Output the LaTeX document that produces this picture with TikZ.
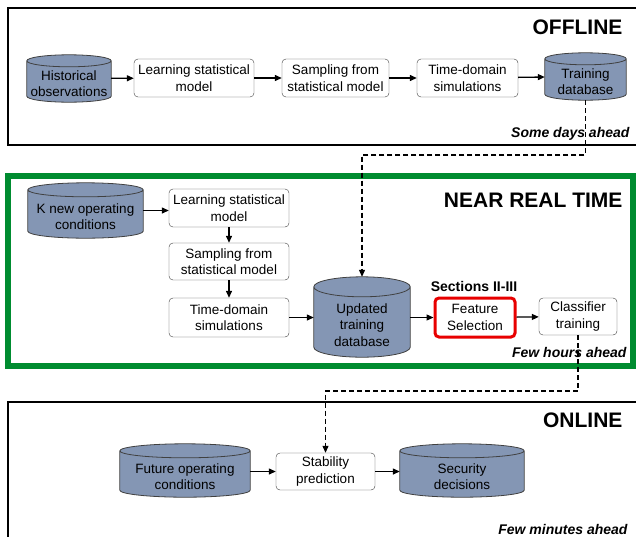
\documentclass[tikz,border=0pt]{standalone}
\usepackage{fontspec}
\setmainfont{Liberation Sans}
\usetikzlibrary{arrows.meta,backgrounds,calc}
\definecolor{dbblue}{RGB}{132,150,180}
\definecolor{nrtgreen}{RGB}{0,140,48}
\definecolor{selred}{RGB}{232,0,0}
\newcommand{\dbshape}[2]{%
  \path[dbline] let \p1=(#1.north west), \p2=(#1.south east), \n1={(\x2-\x1)/2} in
    (\x1,\y1-#2pt) -- (\x1,\y2+#2pt)
    arc[start angle=180,end angle=360,x radius=\n1,y radius=#2pt]
    -- (\x2,\y1-#2pt)
    arc[start angle=0,end angle=180,x radius=\n1,y radius=#2pt] -- cycle
    (\x1+\n1,\y1-#2pt) ellipse[x radius=\n1,y radius=#2pt];}

\begin{document}
\begin{tikzpicture}[x=1pt,y=-1pt]
\tikzset{procbox/.style={draw=black!75,rounded corners=4pt,fill=white,align=center,
    inner sep=0pt,font=\fontsize{13.5}{16.5}\selectfont},
  dbcyl/.style={inner sep=0pt},
  dbtext/.style={align=center,inner sep=0pt,font=\fontsize{13.5}{16.5}\selectfont},
  dbline/.style={draw=black!75,fill=dbblue,line width=0.8pt},
  flow/.style={-{Triangle[length=7pt,width=6pt]},line width=1.3pt},
  link/.style={dashed,dash pattern=on 5pt off 3pt,line width=1.1pt,-{Triangle[length=7pt,width=6pt]}},
  phase/.style={anchor=east,font=\bfseries\fontsize{21}{24}\selectfont},
  ahead/.style={anchor=east,font=\bfseries\itshape\fontsize{14}{16}\selectfont}}
\def\frm{1.2pt}
\useasboundingbox (0,0) rectangle (636,536);

% offline
\draw[line width=\frm] (8,8) rectangle (650,145);
\node[phase] (offt) at (626,27) {OFFLINE};
\node[ahead] (offa) at (633,134) {Some days ahead};
\node[dbcyl,minimum width=84pt,minimum height=47pt,
  label={[dbtext,yshift=-5pt]center:{Historical\\observations}}] (hist) at (69,78.5) {};
\node[procbox,minimum width=120pt,minimum height=38pt] (learn1) at (194,78) {Learning statistical\\model};
\node[procbox,minimum width=107pt,minimum height=38pt] (samp1) at (335.5,78) {Sampling from\\statistical model};
\node[procbox,minimum width=101pt,minimum height=38pt] (time1) at (467.5,78) {Time-domain\\simulations};
\node[dbcyl,minimum width=81pt,minimum height=47pt,
  label={[dbtext,yshift=-5pt]center:{Training\\database}}] (train1) at (585.5,76.5) {};
\draw[flow] (hist) -- (learn1);
\draw[flow] (learn1) -- (samp1);
\draw[flow] (samp1) -- (time1);
\draw[flow] (time1) -- (train1);

% near real time
\draw[nrtgreen,line width=6pt] (8,176) rectangle (633,366);
\node[phase] (nrtt) at (626,200) {NEAR REAL TIME};
\node[ahead] (nrta) at (630,352) {Few hours ahead};
\node[dbcyl,minimum width=115pt,minimum height=55pt,
  label={[dbtext,yshift=-6pt]center:{K new operating\\conditions}}] (knew) at (85.5,210.5) {};
\node[procbox,minimum width=120pt,minimum height=38pt] (learn2) at (229,208) {Learning statistical\\model};
\node[procbox,minimum width=120pt,minimum height=37pt] (samp2) at (229,261.5) {Sampling from\\statistical model};
\node[procbox,minimum width=120pt,minimum height=39pt] (time2) at (229,317.5) {Time-domain\\simulations};
\node[dbcyl,minimum width=96pt,minimum height=80pt,
  label={[dbtext,yshift=-8pt]center:{Updated\\training\\database}}] (upd) at (362,317) {};
\node[procbox,draw=selred,line width=3pt,minimum width=80pt,minimum height=39pt] (feat) at (475,317.5) {Feature\\Selection};
\node[font=\bfseries\fontsize{14}{16}\selectfont] (sect) at (474,286) {Sections II-III};
\node[procbox,minimum width=78pt,minimum height=37pt] (clas) at (578,316.5) {Classifier\\training};
\draw[flow] (knew) -- (knew -| learn2.west);
\draw[flow] (learn2) -- (samp2);
\draw[flow] (samp2) -- (time2);
\draw[flow] (time2) -- (time2 -| upd.west);
\draw[flow] (upd.east |- feat) -- (feat);
\draw[flow] (feat) -- (clas);

% online
\draw[line width=\frm] (8,402) rectangle (650,560);
\node[phase] (ont) at (626,420) {ONLINE};
\node[ahead] (ona) at (631,529) {Few minutes ahead};
\node[dbcyl,minimum width=130pt,minimum height=53pt,
  label={[dbtext,yshift=-6pt]center:{Future operating\\conditions}}] (fut) at (185,470.5) {};
\node[procbox,minimum width=99pt,minimum height=37pt] (stab) at (325.5,471.5) {Stability\\prediction};
\node[dbcyl,minimum width=124pt,minimum height=53pt,
  label={[dbtext,yshift=-6pt]center:{Security\\decisions}}] (sec) at (462,470.5) {};
\draw[flow] (fut.east |- stab) -- (stab);
\draw[flow] (stab) -- (stab -| sec.west);

% links between phases
\coordinate (off2nrt) at (0,155);
\coordinate (nrt2on) at (0,391);
\draw[link] (train1.south) -- (train1.south |- off2nrt) -| (upd.north);
\draw[link] (clas.south) -- (clas.south |- nrt2on) -| (stab.north);

\begin{scope}[on background layer]
\dbshape{hist}{6}
\dbshape{train1}{6}
\dbshape{knew}{7}
\dbshape{upd}{10}
\dbshape{fut}{7}
\dbshape{sec}{7}
\end{scope}
\end{tikzpicture}
\end{document}
